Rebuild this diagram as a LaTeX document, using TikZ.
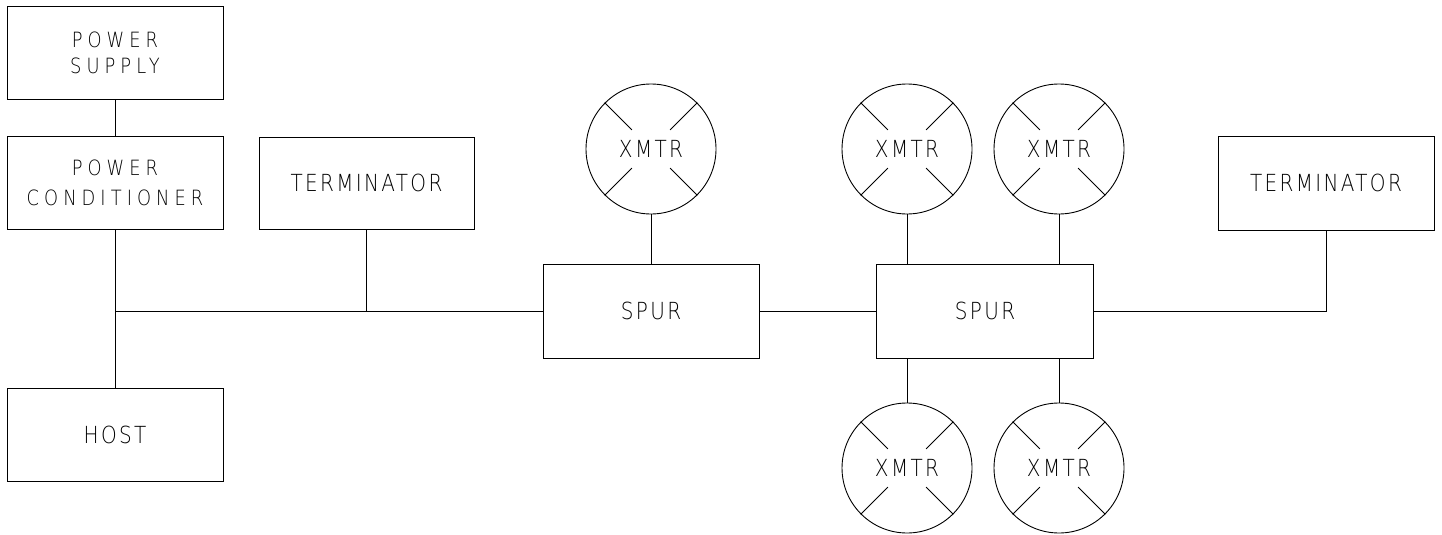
\documentclass[tikz,border=0pt]{standalone}
\usepackage{fontspec}
\setmainfont{DejaVuSans-ExtraLight.ttf}[FakeStretch=0.85, LetterSpace=10]
\usetikzlibrary{calc}
\tikzset{
  block/.style={draw, line width=0.9pt, rectangle, inner sep=0pt,
    minimum width=216pt, minimum height=93pt, align=center,
    font=\fontsize{23.5}{26}\selectfont},
  powertext/.style={font=\fontsize{21}{#1}\selectfont\addfontfeature{LetterSpace=24}},
  xmtr/.style={draw, line width=0.9pt, circle, inner sep=0pt,
    minimum size=130pt, font=\fontsize{23.5}{26}\selectfont},
  wire/.style={line width=0.9pt},
}
\begin{document}
\begin{tikzpicture}[x=1pt,y=-1pt]
  \useasboundingbox (0,0) rectangle (1442,535);

  % left column
  \node[block, powertext=26] (ps) at (115,52.5)  {POWER\\SUPPLY};
  \node[block, powertext=30] (pc) at (115,182.5) {POWER\\CONDITIONER};
  \node[block] (host) at (115,434.5) {HOST};
  \node[block, minimum width=215pt, minimum height=92pt] (t1) at (366.5,183) {TERMINATOR};

  % spur blocks
  \node[block, minimum height=94pt] (s1) at (651,311) {SPUR};
  \node[block, minimum width=217pt, minimum height=94pt] (s2) at (985,311) {SPUR};
  \node[block, minimum height=94pt] (t2) at (1326,183) {TERMINATOR};

  % transmitters
  \node[xmtr] (x1) at (651,149)  {XMTR};
  \node[xmtr] (x2) at (907,149)  {XMTR};
  \node[xmtr] (x3) at (1059,149) {XMTR};
  \node[xmtr] (x4) at (907,468)  {XMTR};
  \node[xmtr] (x5) at (1059,468) {XMTR};

  % cross marks in each transmitter
  \foreach \n in {x1,x2,x3,x4,x5}
    \foreach \a in {45,135,225,315}
      \draw[wire] ($(\n.center)+(\a:27pt)$) -- (\n.\a);

  % trunk
  \coordinate (j1) at (115,311);
  \coordinate (j2) at (t1.south |- j1);
  \draw[wire] (ps.south) -- (pc.north);
  \draw[wire] (pc.south) -- (host.north);
  \draw[wire] (j1) -- (s1.west);
  \draw[wire] (t1.south) -- (j2);
  \draw[wire] (s1.east) -- (s2.west);
  \draw[wire] (s2.east) -| (t2.south);

  % spur drops
  \draw[wire] (x1.south) -- (s1.north);
  \draw[wire] (x2.south) -- (x2.south |- s2.north);
  \draw[wire] (x3.south) -- (x3.south |- s2.north);
  \draw[wire] (x4.north) -- (x4.north |- s2.south);
  \draw[wire] (x5.north) -- (x5.north |- s2.south);
\end{tikzpicture}
\end{document}
